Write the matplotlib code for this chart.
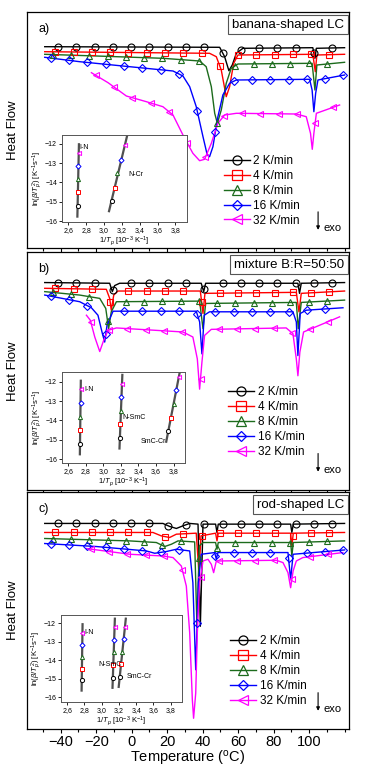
import numpy as np
import matplotlib
matplotlib.use('Agg')
import matplotlib.pyplot as plt
from matplotlib.lines import Line2D
from matplotlib.ticker import MultipleLocator, FixedLocator, FuncFormatter

plt.rcParams['font.family'] = ['Liberation Sans', 'DejaVu Sans']
plt.rcParams['mathtext.fontset'] = 'custom'
plt.rcParams['mathtext.rm'] = 'Liberation Sans'
plt.rcParams['mathtext.it'] = 'Liberation Sans:italic'

# HEATING RATES / STYLES
rates = ['2 K/min', '4 K/min', '8 K/min', '16 K/min', '32 K/min']
colors = ['black', 'red', '#1c6b1c', 'blue', 'magenta']
markers = ['o', 's', '^', 'D', '<']

# PANEL A - banana-shaped LC (temperature in C, heat flow in a.u.)
a_T_2 = [-49, 49.6, 52.4, 54.8, 56.7, 59.0, 62.7, 102.1, 103.3, 104.1, 120]
a_hf_2 = [20.13, 20.07, 19.13, 17.73, 18.3, 19.47, 19.97, 20.03, 18.97, 19.97, 20.03]
a_T_4 = [-49, 43.9, 47.7, 50.5, 53.3, 55.2, 57.5, 59.9, 102.1, 103.5, 104.4, 120]
a_hf_4 = [19.63, 19.47, 19.13, 17.8, 15.13, 16.13, 18.47, 19.3, 19.37, 17.63, 19.3, 19.37]
a_T_8 = [-49, -19.9, 17.6, 38.3, 42.0, 44.9, 46.8, 48.3, 50.5, 53.3, 56.1, 59.9, 101.7, 103.3, 104.4, 120]
a_hf_8 = [19.37, 19.2, 18.97, 18.7, 18.13, 16.13, 13.47, 12.47, 13.8, 16.47, 17.97, 18.4, 18.47, 15.8, 18.3, 18.57]
a_T_16 = [-49, -29.3, -1.1, 23.3, 28.9, 32.7, 36.4, 40.2, 42.6, 43.9, 45.8, 48.6, 51.4, 55.2, 59.0,
          100.3, 101.7, 102.7, 103.7, 105.0, 120]
a_hf_16 = [19.07, 18.63, 18.13, 17.7, 17.2, 16.13, 14.13, 11.13, 9.3, 9.13, 10.13, 13.13, 15.3, 16.47, 16.8,
           16.87, 15.8, 13.63, 15.47, 16.8, 17.3]
a_T_32 = [-22.7, -13.3, -3.0, 8.3, 17.6, 23.3, 28.9, 34.5, 38.3, 41.1, 44.9, 48.6, 52.4, 59.0,
          92.8, 98.4, 100.8, 101.8, 102.7, 104.1, 117.2]
a_hf_32 = [17.53, 16.53, 15.2, 14.63, 14.13, 13.3, 11.3, 9.47, 8.73, 8.87, 10.47, 12.47, 13.3, 13.47,
           13.4, 13.13, 11.47, 9.87, 11.47, 13.47, 14.3]

# PANEL B - mixture B:R=50:50
b_T_2 = [-49, -12.4, -10.9, -9.6, -6.8, 39.2, 40.6, 41.7, 93.7, 94.6, 95.6, 120]
b_hf_2 = [20.57, 20.5, 19.67, 20.27, 20.5, 20.5, 19.67, 20.5, 20.5, 19.5, 20.5, 20.57]
b_T_4 = [-49, -14.3, -12.4, -11.5, -10.1, -7.7, 38.7, 40.2, 41.3, 92.8, 94.3, 95.6, 120]
b_hf_4 = [20.0, 19.9, 19.0, 17.83, 19.33, 19.73, 19.73, 17.5, 19.5, 19.6, 17.67, 19.5, 19.73]
b_T_8 = [-49, -29.3, -18.0, -14.6, -13.0, -11.5, -8.6, 38.3, 40.2, 41.7, 92.8, 93.9, 95.6, 120]
b_hf_8 = [19.67, 19.33, 19.0, 18.0, 16.0, 17.67, 18.67, 18.73, 16.0, 18.5, 18.6, 16.0, 18.6, 18.83]
b_T_16 = [-49, -29.3, -22.7, -19.0, -16.5, -15.2, -13.9, -10.5, 36.4, 38.3, 39.6, 40.9, 43.9,
          90.9, 92.8, 93.7, 95.0, 98.4, 119.1]
b_hf_16 = [19.33, 18.67, 18.07, 17.33, 15.5, 14.67, 16.33, 17.73, 17.73, 16.67, 13.5, 17.33, 17.67,
           17.67, 16.67, 13.33, 17.5, 17.83, 18.07]
b_T_32 = [-25.5, -23.3, -20.8, -18.0, -15.8, -13.3, -8.6, 28.9, 34.5, 37.0, 38.3, 39.6, 41.1, 44.9,
          87.1, 90.9, 92.8, 93.7, 94.8, 96.9, 117.2]
b_hf_32 = [17.33, 16.83, 15.17, 13.73, 14.83, 15.83, 16.07, 15.67, 15.17, 13.0, 10.0, 12.67, 15.33, 15.93,
           16.07, 15.5, 13.0, 11.33, 13.67, 15.67, 17.17]

# PANEL C - rod-shaped LC
c_T_2 = [-49, 17.6, 21.4, 25.2, 28.9, 32.7, 37.4, 38.7, 40.2, 47.3, 48.1, 48.8, 89.6, 90.3, 91.1, 120]
c_hf_2 = [20.47, 20.47, 20.17, 19.97, 20.23, 20.47, 20.4, 10.23, 20.4, 20.4, 19.57, 20.4, 20.4, 19.57, 20.4, 20.47]
c_T_4 = [-49, 12.0, 16.7, 21.4, 25.2, 36.4, 37.9, 39.1, 47.3, 48.1, 48.8, 89.6, 90.3, 91.1, 120]
c_hf_4 = [19.57, 19.57, 19.23, 19.07, 19.4, 19.5, 15.57, 19.23, 19.5, 18.73, 19.5, 19.5, 18.23, 19.5, 19.57]
c_T_8 = [-49, -1.1, 13.9, 18.6, 22.4, 26.1, 35.5, 36.8, 38.1, 40.2, 47.3, 48.1, 48.8, 89.6, 90.3, 91.1, 120]
c_hf_8 = [18.97, 18.73, 18.57, 18.17, 18.4, 18.73, 18.63, 10.23, 18.23, 18.57, 18.57, 17.9, 18.57,
          18.57, 17.23, 18.57, 18.73]
c_T_16 = [-49, -19.9, 8.3, 13.0, 19.5, 25.2, 32.7, 34.5, 36.1, 37.6, 39.2, 46.8, 47.7, 48.6,
          88.1, 89.6, 91.0, 120]
c_hf_16 = [18.47, 18.17, 17.73, 17.5, 17.67, 17.9, 17.73, 14.57, 5.9, 14.57, 17.4, 17.57, 16.9, 17.57,
           17.57, 14.9, 17.4, 17.83]
c_T_32 = [-25.5, -1.1, 17.6, 23.3, 28.0, 30.8, 32.7, 34.2, 34.9, 36.1, 37.0, 38.3, 40.2, 43.0, 44.9, 46.2,
          47.7, 81.5, 85.3, 88.1, 89.6, 91.0, 92.8, 96.5, 119.1]
c_hf_32 = [17.97, 17.4, 17.23, 17.07, 16.23, 14.23, 9.57, 2.9, 1.07, 3.57, 9.57, 14.57, 16.73, 16.9, 16.4,
           15.57, 16.73, 16.8, 16.57, 15.57, 14.07, 15.73, 16.73, 17.07, 17.57]

# INSETS - Kissinger plots, ln(beta/Tp^2) vs 1/Tp
a_inv_IN = [2.705, 2.708, 2.711, 2.714, 2.718]
a_ln_IN = [-15.22, -14.5, -13.85, -13.13, -12.48]
a_inv_NCr = [3.09, 3.12, 3.15, 3.19, 3.24]
a_ln_NCr = [-14.94, -14.28, -13.54, -12.85, -12.09]

b_inv_IN = [2.735, 2.737, 2.739, 2.741, 2.743]
b_ln_IN = [-15.2, -14.5, -13.8, -13.1, -12.4]
b_inv_NSmC = [3.19, 3.195, 3.2, 3.205, 3.215]
b_ln_NSmC = [-14.9, -14.2, -13.5, -12.8, -12.1]
b_inv_SmCCr = [3.74, 3.77, 3.8, 3.83, 3.86]
b_ln_SmCCr = [-14.55, -13.85, -13.15, -12.45, -11.75]

c_inv_IN = [2.77, 2.772, 2.774, 2.776, 2.778]
c_ln_IN = [-15.1, -14.5, -13.85, -13.2, -12.5]
c_inv_NSmC = [3.13, 3.135, 3.14, 3.145, 3.15]
c_ln_NSmC = [-14.95, -14.25, -13.55, -12.9, -12.2]
c_inv_SmCCr = [3.21, 3.225, 3.24, 3.255, 3.27]
c_ln_SmCCr = [-14.9, -14.2, -13.55, -12.85, -12.2]

# first symbol position (C) for each rate; symbols repeat every ~10 C like Origin
sym_start = [-41.5, -43.0, -44.5, -45.5, None]
sym_step = 10.3


def draw_dsc(ax, curves, title, letter, legend_anchor):
    handles = []
    for i, (T, hf) in enumerate(curves):
        ms = 4.3 if markers[i] == 'D' else 5
        ax.plot(T, hf, color=colors[i], lw=1.0, zorder=3)
        start = sym_start[i] if sym_start[i] is not None else T[0] + 2.5
        sym_T = np.arange(start, T[-1], sym_step)
        ax.plot(sym_T, np.interp(sym_T, T, hf), ls='none', marker=markers[i], ms=ms,
                mfc='none', mec=colors[i], mew=0.8, zorder=4)
        handles.append(Line2D([], [], color=colors[i], lw=1.0, marker=markers[i], ms=ms * 1.3,
                              mfc='none', mew=0.9))
    ax.set_xlim(-59, 122.5)
    ax.set_ylim(0, 23.6)
    ax.set_yticks([])
    ax.xaxis.set_major_locator(FixedLocator([-40, -20, 0, 20, 40, 60, 80, 100]))
    ax.xaxis.set_minor_locator(MultipleLocator(10))
    ax.tick_params(axis='x', direction='out', length=3, width=0.8, labelsize=10.5, pad=1)
    ax.tick_params(axis='x', which='minor', direction='out', length=2, width=0.8)
    ax.set_ylabel('Heat Flow', fontsize=9.5, labelpad=6)
    for s in ax.spines.values():
        s.set_linewidth(0.9)
    ax.text(0.035, 0.955, letter, transform=ax.transAxes, fontsize=9, ha='left', va='top')
    ax.text(0.985, 0.972, title, transform=ax.transAxes, fontsize=9.5, ha='right', va='top',
            bbox=dict(boxstyle='square,pad=0.28', fc='white', ec='#555555', lw=0.8))
    ax.legend(handles, rates, loc='upper left', bbox_to_anchor=legend_anchor, frameon=False, fontsize=8.5,
              handlelength=2.2, handletextpad=0.3, labelspacing=0.25, borderpad=0.2)
    ax.annotate('', xy=(0.904, 0.065), xytext=(0.904, 0.165), xycoords='axes fraction',
                arrowprops=dict(arrowstyle='-|>', color='black', lw=0.8, mutation_scale=5))
    ax.text(0.92, 0.085, 'exo', transform=ax.transAxes, fontsize=8, ha='left', va='center')


def draw_inset(ax, fits, labels, ylim):
    for x, y in fits:
        coef = np.polyfit(y, x, 1)
        yy = np.array([min(y) - 0.55, max(y) + 0.45])
        ax.plot(np.polyval(coef, yy), yy, color='#505050', lw=1.6, zorder=1)
        for i in range(len(x)):
            ax.plot(x[i], y[i], marker=markers[i], color=colors[i], mfc='white', mew=0.7,
                    markersize=3 if markers[i] != 'D' else 2.6, zorder=2)
    for txt, tx, ty in labels:
        ax.text(tx, ty, txt, fontsize=5, ha='left', va='center')
    ax.set_xlim(2.53, 3.93)
    ax.set_ylim(*ylim)
    ax.set_xticks([2.6, 2.8, 3.0, 3.2, 3.4, 3.6, 3.8])
    ax.set_yticks([-12, -13, -14, -15, -16])
    ax.xaxis.set_major_formatter(FuncFormatter(lambda v, p: f'{v:.1f}'.replace('.', ',')))
    ax.tick_params(labelsize=5, length=2, width=0.6, pad=1.5)
    ax.set_xlabel(r'1/$T_p$ [10$^{-3}$ K$^{-1}$]', fontsize=5.5, labelpad=1)
    ax.set_ylabel(r'ln($\beta$/$T_p^2$) [K$^{-1}$s$^{-1}$]', fontsize=5.5, labelpad=1)
    for s in ax.spines.values():
        s.set_linewidth(0.7)
        s.set_color('#555555')


fig = plt.figure(figsize=(3.67, 7.70), dpi=100)
W, H = 367.0, 770.0
left, right = 27, 349


def box(x0, y0, x1, y1):
    return [x0 / W, 1 - y1 / H, (x1 - x0) / W, (y1 - y0) / H]


ax_a = fig.add_axes(box(left, 12, right, 248))
ax_b = fig.add_axes(box(left, 252, right, 490))
ax_c = fig.add_axes(box(left, 492, right, 729))

draw_dsc(ax_a, [(a_T_2, a_hf_2), (a_T_4, a_hf_4), (a_T_8, a_hf_8), (a_T_16, a_hf_16), (a_T_32, a_hf_32)],
         'banana-shaped LC', 'a)', (0.585, 0.43))
draw_dsc(ax_b, [(b_T_2, b_hf_2), (b_T_4, b_hf_4), (b_T_8, b_hf_8), (b_T_16, b_hf_16), (b_T_32, b_hf_32)],
         'mixture B:R=50:50', 'b)', (0.6, 0.47))
draw_dsc(ax_c, [(c_T_2, c_hf_2), (c_T_4, c_hf_4), (c_T_8, c_hf_8), (c_T_16, c_hf_16), (c_T_32, c_hf_32)],
         'rod-shaped LC', 'c)', (0.605, 0.43))
ax_a.tick_params(axis='x', labelbottom=False)
ax_b.tick_params(axis='x', labelbottom=False)
ax_c.set_xlabel('Temperature ($^{\\rm o}$C)', fontsize=10.5, labelpad=0)

in_a = fig.add_axes(box(62, 135, 187, 222))
draw_inset(in_a, [(a_inv_IN, a_ln_IN), (a_inv_NCr, a_ln_NCr)],
           [('I-N', 2.72, -12.2), ('N-Cr', 3.27, -13.6)], (-16.05, -11.55))
in_b = fig.add_axes(box(62, 372, 185, 463))
draw_inset(in_b, [(b_inv_IN, b_ln_IN), (b_inv_NSmC, b_ln_NSmC), (b_inv_SmCCr, b_ln_SmCCr)],
           [('I-N', 2.78, -12.4), ('N-SmC', 3.22, -13.85), ('SmC-Cr', 3.42, -15.1)], (-16.2, -11.5))
in_c = fig.add_axes(box(61, 615, 182, 702))
draw_inset(in_c, [(c_inv_IN, c_ln_IN), (c_inv_NSmC, c_ln_NSmC), (c_inv_SmCCr, c_ln_SmCCr)],
           [('I-N', 2.8, -12.5), ('N-SmC', 2.96, -14.25), ('SmC-Cr', 3.29, -14.9)], (-16.27, -11.55))

fig.savefig('out.png', dpi=100)
